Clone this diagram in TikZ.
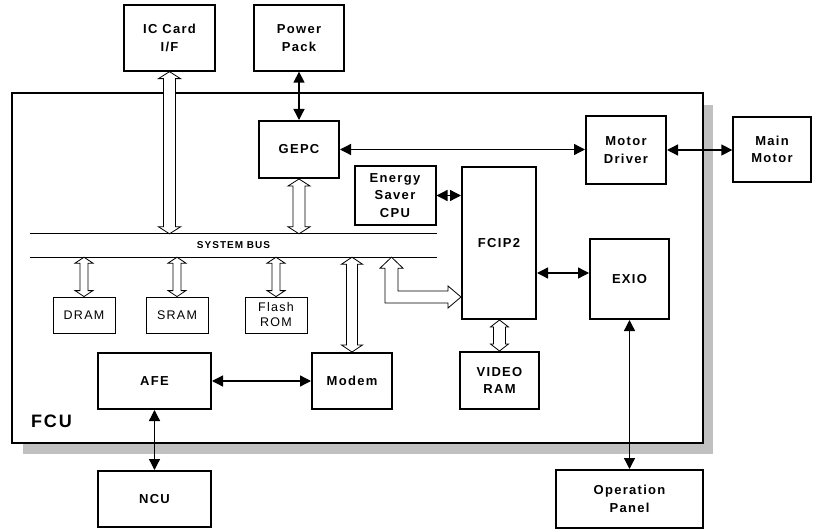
\documentclass[tikz,border=0pt]{standalone}
\usepackage{fontspec}
\setmainfont{Liberation Sans}
\newfontfamily\labfont[LetterSpace=10]{Liberation Sans}
\usetikzlibrary{arrows.meta,calc}
\definecolor{shadowc}{HTML}{C0C0C0}
\newcommand\hollowV[5]{%
 \draw[hollow] let \p1=(#1), \p2=(#2) in
 (\x1,\y1) -- (\x1+#4,\y1-#5) -- (\x1+#3,\y1-#5) -- (\x1+#3,\y2+#5) -- (\x1+#4,\y2+#5) -- (\x1,\y2)
 -- (\x1-#4,\y2+#5) -- (\x1-#3,\y2+#5) -- (\x1-#3,\y1-#5) -- (\x1-#4,\y1-#5) -- cycle;}
\begin{document}
\begin{tikzpicture}[x=1pt,y=-1pt,
  lbl/.style={font=\labfont\bfseries\fontsize{13}{17.5}\selectfont},
  box/.style={draw, lbl, align=center, inner sep=0pt},
  thickbox/.style={box, line width=2pt},
  medbox/.style={box, line width=1.3pt},
  thinbox/.style={draw, line width=0.8pt, align=center, inner sep=0pt,
     font=\labfont\fontsize{12.5}{15}\selectfont},
  conn/.style={line width=1.3pt, {Triangle[length=11pt,width=11pt]}-{Triangle[length=11pt,width=11pt]}},
  hollow/.style={draw, fill=white, line width=0.8pt, line join=miter}]
\useasboundingbox (0,0) rectangle (816,529);
% shadow and FCU frame
\fill[shadowc] (23,105) rectangle (713,454);
\node[draw, line width=2pt, fill=white, minimum width=691pt, minimum height=350pt, inner sep=0pt] (fcu) at (357.5,268) {};
\node[font=\labfont\bfseries\fontsize{18}{20}\selectfont, anchor=west, inner sep=0pt] (fculab) at (31,421) {FCU};
% outer blocks
\node[medbox, minimum width=91pt, minimum height=66pt] (ic) at (169.5,38) {IC Card\\I/F};
\node[medbox, minimum width=90pt, minimum height=66pt] (pp) at (299,38) {Power\\Pack};
\node[medbox, minimum width=78pt, minimum height=65pt] (mm) at (772,149.5) {Main\\Motor};
\node[thickbox, minimum width=113pt, minimum height=56pt] (ncu) at (154.5,499) {NCU};
\node[thickbox, minimum width=147pt, minimum height=58pt] (opp) at (629.5,499) {Operation\\Panel};
% inner blocks
\node[thickbox, minimum width=80pt, minimum height=57pt] (gepc) at (299,149.5) {GEPC};
\node[thickbox, minimum width=81pt, minimum height=59pt] (esc) at (395,195.5) {Energy\\Saver\\CPU};
\node[thickbox, minimum width=80pt, minimum height=68pt] (md) at (626,150) {Motor\\Driver};
\node[thickbox, minimum width=74pt, minimum height=152pt] (fcip) at (499,243) {FCIP2};
\node[thickbox, minimum width=79pt, minimum height=80pt] (exio) at (629.5,279) {EXIO};
\node[thickbox, minimum width=79pt, minimum height=57pt] (vram) at (499.5,380.5) {VIDEO\\RAM};
\node[thickbox, minimum width=113pt, minimum height=56pt] (afe) at (154.5,381) {AFE};
\node[thickbox, minimum width=80pt, minimum height=56pt] (modem) at (352,381) {Modem};
\node[thinbox, minimum width=62pt, minimum height=36pt] (dram) at (84,315) {DRAM};
\node[thinbox, minimum width=62pt, minimum height=36pt] (sram) at (177,315) {SRAM};
\node[thinbox, minimum width=62pt, minimum height=36pt] (flash) at (276,315) {Flash\\ROM};
% system bus
\node[minimum width=407pt, minimum height=23pt, inner sep=0pt,
      font=\labfont\bfseries\fontsize{10}{12}\selectfont] (bus) at (233.5,245.5) {SYSTEM BUS};
\draw[line width=1.2pt] (bus.north west) -- (bus.north east) (bus.south west) -- (bus.south east);
% hollow bus arrows
\hollowV{ic.south}{bus.north -| ic.south}{6pt}{11pt}{7pt}
\hollowV{gepc.south}{bus.north -| gepc.south}{6pt}{11pt}{7pt}
\hollowV{bus.south -| dram.north}{dram.north}{4pt}{9pt}{6pt}
\hollowV{bus.south -| sram.north}{sram.north}{4pt}{9pt}{6pt}
\hollowV{bus.south -| flash.north}{flash.north}{4pt}{9pt}{6pt}
\hollowV{bus.south -| modem.north}{modem.north}{5.5pt}{10.5pt}{7pt}
\hollowV{fcip.south -| vram.north}{vram.north}{6pt}{9pt}{7pt}
% L-shaped hollow arrow bus -> FCIP2
\coordinate (lx) at (391.5,0);
\coordinate (ly) at (0,297);
\draw[hollow] let \p1=(bus.south -| lx), \p2=(fcip.west |- ly) in
 (\x1,\y1) -- (\x1+11.5pt,\y1-11pt) -- (\x1+6.5pt,\y1-11pt) -- (\x1+6.5pt,\y2+6pt)
 -- (\x2-13pt,\y2+6pt) -- (\x2-13pt,\y2+11pt) -- (\x2,\y2) -- (\x2-13pt,\y2-11pt)
 -- (\x2-13pt,\y2-6pt) -- (\x1-6.5pt,\y2-6pt) -- (\x1-6.5pt,\y1-11pt) -- (\x1-11.5pt,\y1-11pt) -- cycle;
% black connectors
\draw[conn] (pp.south) -- (gepc.north);
\draw[conn] (gepc.east) -- (md.west |- gepc.east);
\draw[conn] (md.east) -- (mm.west |- md.east);
\draw[conn] (esc.east) -- (fcip.west |- esc.east);
\coordinate (ey) at (0,273);
\draw[conn] (fcip.east |- ey) -- (exio.west |- ey);
\draw[conn] (afe.east) -- (modem.west);
\draw[conn] (afe.south) -- (ncu.north);
\draw[conn] (exio.south) -- (opp.north);
\end{tikzpicture}
\end{document}
